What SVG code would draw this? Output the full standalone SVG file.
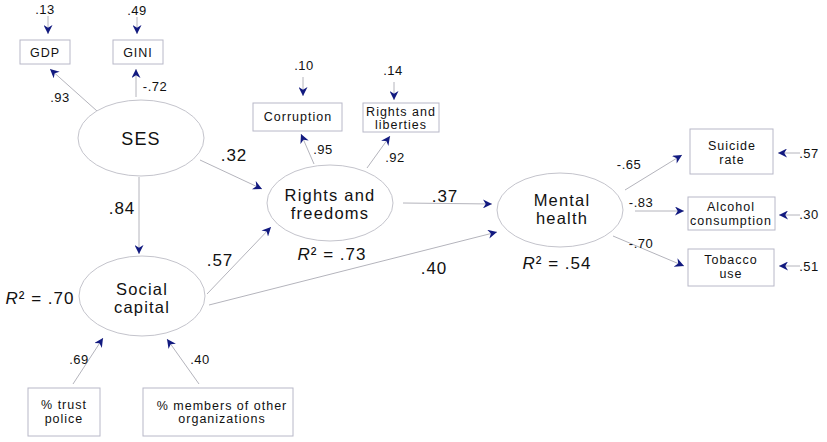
<svg xmlns="http://www.w3.org/2000/svg" width="827" height="442" viewBox="0 0 827 442">
<defs>
<marker id="ah" viewBox="0 0 10 10" refX="10" refY="5" markerWidth="10" markerHeight="9" markerUnits="userSpaceOnUse" orient="auto">
<path d="M0,0 L10,5 L0,10 L3,5 z" fill="#121a80"/>
</marker>
<style>
text{font-family:"Liberation Sans",Arial,sans-serif;fill:#111;text-anchor:middle}
.el{fill:#fff;stroke:#c4c4cc;stroke-width:1}
.bx{fill:#fff;stroke:#b8b8c8;stroke-width:1}
.big{font-size:16.5px;letter-spacing:1.2px}
.bt{font-size:12.5px;letter-spacing:1px}
.co{font-size:17px;letter-spacing:1px}
.sm{font-size:13px;letter-spacing:0.5px}
#connectors line{stroke:#b4b4bc;stroke-width:1;marker-end:url(#ah)}
</style>
</defs>
<rect width="827" height="442" fill="#fff"/>

<g id="connectors">
<line x1="48" y1="16" x2="48" y2="34"/>
<line x1="137" y1="17" x2="137" y2="34"/>
<line x1="97" y1="111" x2="50" y2="69"/>
<line x1="136" y1="97" x2="136" y2="69"/>
<line x1="303" y1="77" x2="303" y2="96"/>
<line x1="394" y1="82" x2="394" y2="100"/>
<line x1="314" y1="164" x2="301" y2="134"/>
<line x1="367" y1="168" x2="390" y2="136"/>
<line x1="200" y1="160" x2="262" y2="189"/>
<line x1="139" y1="177" x2="139" y2="254"/>
<line x1="207" y1="294" x2="271" y2="227"/>
<line x1="209" y1="305" x2="497" y2="232"/>
<line x1="403" y1="203" x2="492" y2="204"/>
<line x1="625" y1="190" x2="682" y2="155"/>
<line x1="635" y1="211" x2="684" y2="211"/>
<line x1="613" y1="236" x2="684" y2="266"/>
<line x1="800" y1="153" x2="778" y2="153"/>
<line x1="800" y1="215" x2="779" y2="215"/>
<line x1="800" y1="266" x2="779" y2="266"/>
<line x1="73" y1="384" x2="103" y2="338"/>
<line x1="199" y1="384" x2="167" y2="339"/>
</g>

<g id="labels">
<text class="sm" x="45" y="14">.13</text>
<text class="sm" x="137" y="15">.49</text>
<text class="sm" x="60" y="102">.93</text>
<text class="sm" x="155" y="91">-.72</text>
<text class="sm" x="304" y="70">.10</text>
<text class="sm" x="393" y="75">.14</text>
<text class="sm" x="323" y="154">.95</text>
<text class="sm" x="395" y="162">.92</text>
<text class="co" x="234" y="161">.32</text>
<text class="co" x="122" y="214">.84</text>
<text class="co" x="220" y="266">.57</text>
<text class="co" x="445" y="202">.37</text>
<text class="co" x="434" y="274">.40</text>
<text class="sm" x="629" y="169">-.65</text>
<text class="sm" x="641" y="207">-.83</text>
<text class="sm" x="641" y="248">-.70</text>
<text class="sm" x="809" y="158">.57</text>
<text class="sm" x="809" y="219">.30</text>
<text class="sm" x="809" y="271">.51</text>
<text class="sm" x="79" y="364">.69</text>
<text class="sm" x="200" y="364">.40</text>
<text class="co" x="40" y="304"><tspan font-style="italic">R</tspan>² = .70</text>
<text class="co" x="332" y="260"><tspan font-style="italic">R</tspan>² = .73</text>
<text class="co" x="557" y="269"><tspan font-style="italic">R</tspan>² = .54</text>
</g>

<g id="gdp"><rect class="bx" x="20" y="40" width="50" height="24"/><text class="bt" x="45" y="57">GDP</text></g>
<g id="gini"><rect class="bx" x="113" y="40" width="50" height="24"/><text class="bt" x="138" y="57">GINI</text></g>
<g id="ses"><ellipse class="el" cx="141" cy="138" rx="63" ry="38"/><text class="big" x="141" y="145" style="font-size:18px">SES</text></g>
<g id="corruption"><rect class="bx" x="253" y="103" width="89" height="28"/><text class="bt" x="298" y="121">Corruption</text></g>
<g id="rights-liberties"><rect class="bx" x="363" y="103" width="76" height="29"/><text class="bt" x="401" y="116">Rights and</text><text class="bt" x="401" y="129">liberties</text></g>
<g id="rights-freedoms"><ellipse class="el" cx="330" cy="203" rx="63" ry="38"/><text class="big" x="330" y="201">Rights and</text><text class="big" x="330" y="219">freedoms</text></g>
<g id="social-capital"><ellipse class="el" cx="142" cy="296" rx="63" ry="40"/><text class="big" x="142" y="295">Social</text><text class="big" x="142" y="313">capital</text></g>
<g id="mental-health"><ellipse class="el" cx="560" cy="210" rx="63" ry="37"/><text class="big" x="562" y="206">Mental</text><text class="big" x="562" y="224">health</text></g>
<g id="suicide"><rect class="bx" x="690" y="129" width="83" height="45"/><text class="bt" x="732" y="150">Suicide</text><text class="bt" x="732" y="164">rate</text></g>
<g id="alcohol"><rect class="bx" x="688" y="197" width="87" height="33"/><text class="bt" x="731" y="211">Alcohol</text><text class="bt" x="731" y="225">consumption</text></g>
<g id="tobacco"><rect class="bx" x="688" y="249" width="86" height="37"/><text class="bt" x="731" y="264">Tobacco</text><text class="bt" x="731" y="278">use</text></g>
<g id="trust-police"><rect class="bx" x="28" y="388" width="72" height="48"/><text class="bt" x="64" y="409">% trust</text><text class="bt" x="64" y="423">police</text></g>
<g id="members"><rect class="bx" x="143" y="388" width="150" height="48"/><text class="bt" x="222" y="410">% members of other</text><text class="bt" x="222" y="423">organizations</text></g>
</svg>
